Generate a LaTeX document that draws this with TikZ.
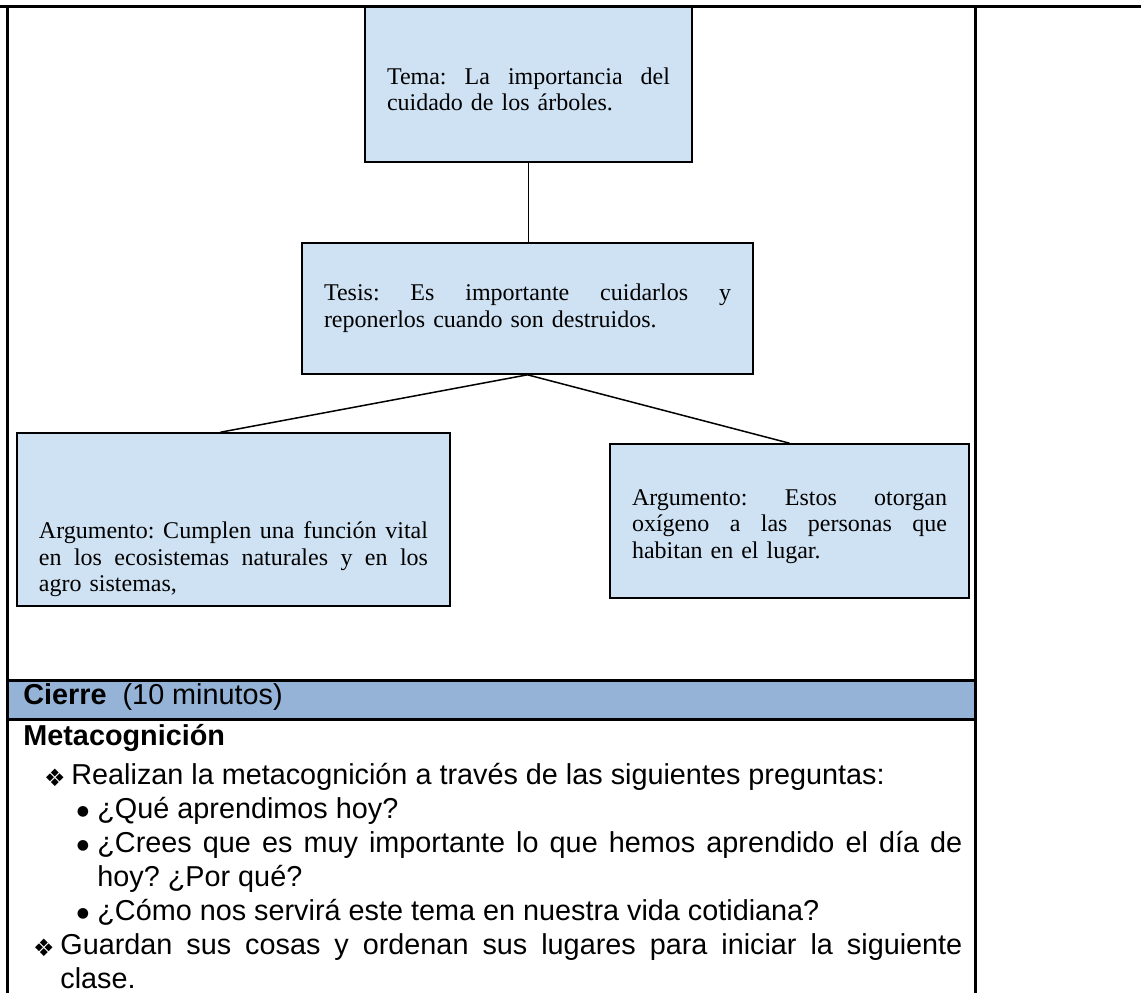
\documentclass[tikz,border=0pt]{standalone}
\usepackage{fontspec}
\setmainfont{Liberation Serif}
\newfontfamily\arialfont{Liberation Sans}
\newfontfamily\symfont{DejaVu Sans}
\frenchspacing
\definecolor{boxblue}{HTML}{CFE2F3}
\definecolor{bandblue}{HTML}{95B3D7}
\newcommand{\jline}[2]{\makebox[#1][s]{\spaceskip=0pt\xspaceskip=0pt #2}}
\tikzset{
  mapbox/.style={draw=black, line width=0.8pt, fill=boxblue, inner xsep=11pt, inner ysep=3pt,
    align=left, font=\fontsize{12}{13.3}\selectfont},
  link/.style={draw=black, line width=0.75pt},
  rule/.style={draw=black, line width=1.5pt},
  txt/.style={anchor=base west, inner sep=0pt, font=\arialfont\fontsize{14.4}{17}\selectfont},
  sym/.style={inner sep=0pt, font=\symfont}
}

\begin{document}
\begin{tikzpicture}[x=0.5pt,y=-0.5pt]
   \useasboundingbox (0,0) rectangle (1141,993);
   % table
   \fill[bandblue] (7,680) rectangle (975,719);
   \draw[rule] (0,6) -- (1141,6);
   \draw[rule] (7,6) -- (7,993);
   \draw[rule] (975,6) -- (975,993);
   \draw[rule] (7,680) -- (975,680);
   \draw[rule] (7,719) -- (975,719);
   % map
   \begin{scope}[every node/.style={mapbox}]
    \node[minimum width=163.5pt, minimum height=77.5pt, text width=141.5pt] (tema) at (528.5,84.5)
      {\mbox{}\\\jline{141.5pt}{Tema: La importancia del}\\cuidado de los árboles.};
    \node[minimum width=225.5pt, minimum height=65.5pt, text width=203.5pt] (tesis) at (527.5,308.5)
      {\jline{203.5pt}{Tesis: Es importante cuidarlos y}\\reponerlos cuando son destruidos.};
    \node[minimum width=216.5pt, minimum height=86.5pt, text width=194.5pt] (arg1) at (233.5,519.5)
      {\mbox{}\\[35pt]\jline{194.5pt}{Argumento: Cumplen una función vital}\\
       \jline{194.5pt}{en los ecosistemas naturales y en los}\\agro sistemas,};
    \node[minimum width=179.5pt, minimum height=77pt, text width=157.5pt] (arg2) at (789.5,521)
      {\mbox{}\\\jline{157.5pt}{Argumento: Estos otorgan}\\
       \jline{157.5pt}{oxígeno a las personas que}\\habitan en el lugar.};
   \end{scope}
   \draw[link] (tema.south) -- (tema.south |- tesis.north);
   \draw[link] (tesis.south) -- ([xshift=-6.5pt]arg1.north);
   \draw[link] (tesis.south) -- (arg2.north);
   % cierre
   \node[txt] (cierre) at (23,704) {\textbf{Cierre}\ \ (10 minutos)};
   \node[txt] (meta) at (23,745) {\textbf{Metacognición}};
   \node[sym, font=\symfont\fontsize{12}{12}\selectfont] (d1) at (55,778) {❖};
   \node[txt] (p1) at (71,784) {Realizan la metacognición a través de las siguientes preguntas:};
   \node[sym, font=\symfont\fontsize{7}{7}\selectfont] (b1) at (83,812) {●};
   \node[txt] (q1) at (97,818) {¿Qué aprendimos hoy?};
   \node[sym, font=\symfont\fontsize{7}{7}\selectfont] (b2) at (83,846) {●};
   \node[txt] (q2) at (97,852) {\makebox[432.5pt][s]{¿Crees que es muy importante lo que hemos aprendido el día de}};
   \node[txt] (q2b) at (97,886) {hoy? ¿Por qué?};
   \node[sym, font=\symfont\fontsize{7}{7}\selectfont] (b3) at (83,914) {●};
   \node[txt] (q3) at (97,920) {¿Cómo nos servirá este tema en nuestra vida cotidiana?};
   \node[sym, font=\symfont\fontsize{12}{12}\selectfont] (d2) at (44,948) {❖};
   \node[txt] (p2) at (60,954) {\makebox[451pt][s]{Guardan sus cosas y ordenan sus lugares para iniciar la siguiente}};
   \node[txt] (p2b) at (60,988) {clase.};
\end{tikzpicture}
\end{document}
